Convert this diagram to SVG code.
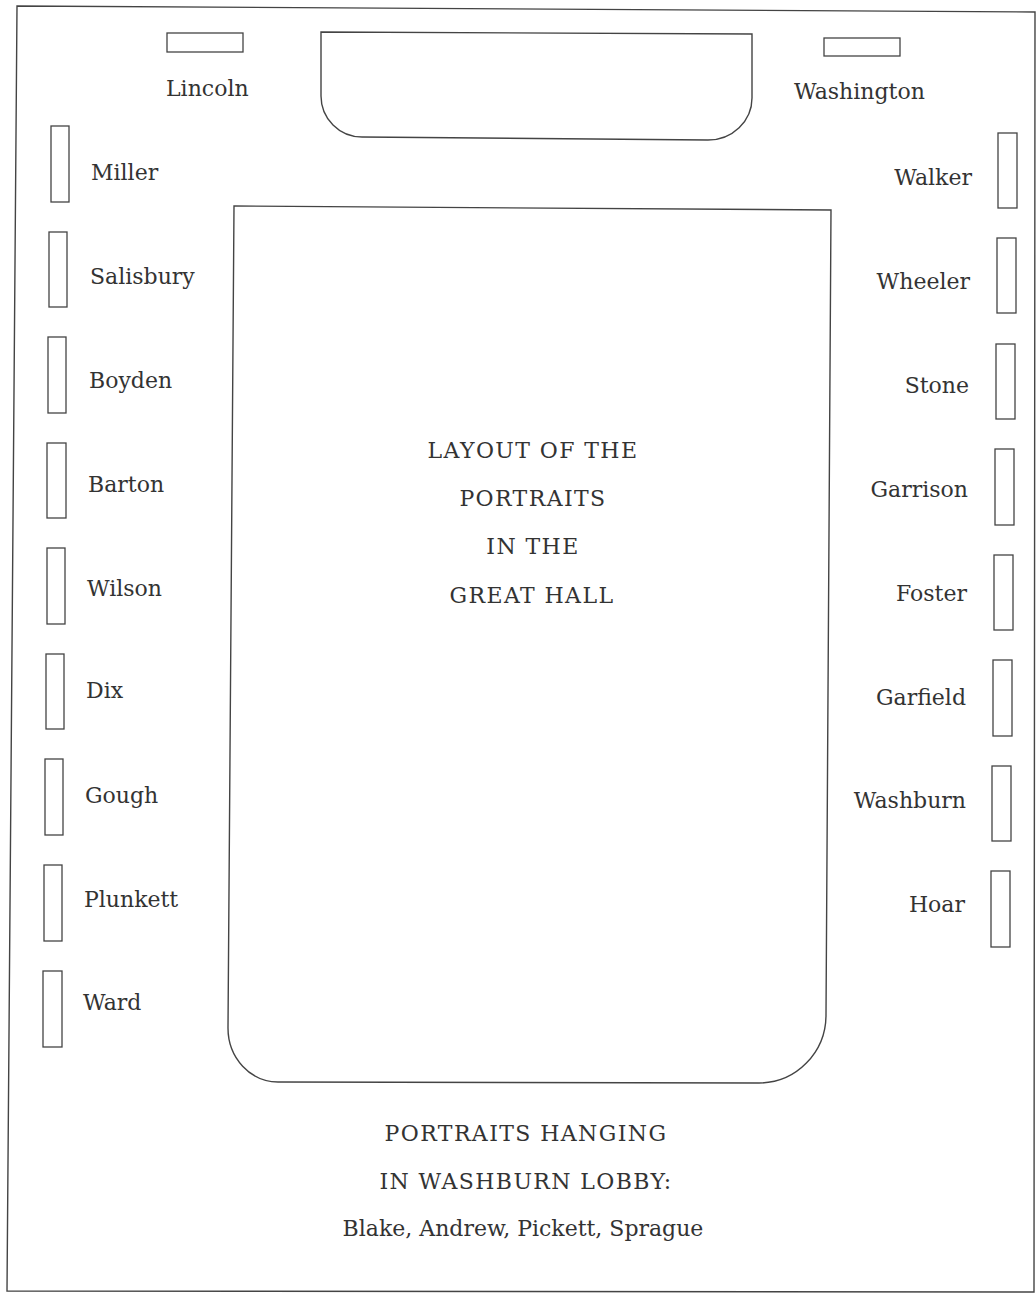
<svg xmlns="http://www.w3.org/2000/svg" width="1036" height="1294" viewBox="0 0 1036 1294">
<style>
.ln{fill:none;stroke:#444;stroke-width:1.4}
.fr{fill:none;stroke:#444;stroke-width:1.3}
text{font-family:"DejaVu Serif","Liberation Serif",serif;font-size:22px;fill:#333}
.r{text-anchor:end}
.c{text-anchor:middle}
.cap{letter-spacing:1.4px}
</style>
<rect x="0" y="0" width="1036" height="1294" fill="#fff"/>
<polygon class="ln" points="17,6 1035,12 1034,1292 7,1291"/>
<g id="alcove"><path class="ln" d="M321,32 L752,34 L752,98 A44,42 0 0 1 708,140 L362,137 A41,41 0 0 1 321,96 Z"/></g>
<g id="hall">
<path class="ln" d="M234,206 L831,210 L826,1015 A67,68 0 0 1 759,1083 L278,1082 A50,54 0 0 1 228,1028 Z"/>
<text class="c cap" x="533" y="458">LAYOUT OF THE</text>
<text class="c cap" x="533" y="506">PORTRAITS</text>
<text class="c cap" x="533" y="554">IN THE</text>
<text class="c cap" x="532" y="603">GREAT HALL</text>
</g>
<g id="lincoln"><rect class="fr" x="167" y="33" width="76" height="19"/><text x="166" y="96">Lincoln</text></g>
<g id="washington"><rect class="fr" x="824" y="38" width="76" height="18"/><text x="794" y="99">Washington</text></g>
<g id="miller"><rect class="fr" x="51" y="126" width="18" height="76"/><text x="91" y="180">Miller</text></g>
<g id="salisbury"><rect class="fr" x="49" y="232" width="18" height="75"/><text x="90" y="284">Salisbury</text></g>
<g id="boyden"><rect class="fr" x="48" y="337" width="18" height="76"/><text x="89" y="388">Boyden</text></g>
<g id="barton"><rect class="fr" x="47" y="443" width="19" height="75"/><text x="88" y="492">Barton</text></g>
<g id="wilson"><rect class="fr" x="47" y="548" width="18" height="76"/><text x="87" y="596">Wilson</text></g>
<g id="dix"><rect class="fr" x="46" y="654" width="18" height="75"/><text x="86" y="698">Dix</text></g>
<g id="gough"><rect class="fr" x="45" y="759" width="18" height="76"/><text x="85" y="803">Gough</text></g>
<g id="plunkett"><rect class="fr" x="44" y="865" width="18" height="76"/><text x="84" y="907">Plunkett</text></g>
<g id="ward"><rect class="fr" x="43" y="971" width="19" height="76"/><text x="83" y="1010">Ward</text></g>
<g id="walker"><rect class="fr" x="998" y="133" width="19" height="75"/><text class="r" x="972" y="185">Walker</text></g>
<g id="wheeler"><rect class="fr" x="997" y="238" width="19" height="75"/><text class="r" x="970" y="289">Wheeler</text></g>
<g id="stone"><rect class="fr" x="996" y="344" width="19" height="75"/><text class="r" x="969" y="393">Stone</text></g>
<g id="garrison"><rect class="fr" x="995" y="449" width="19" height="76"/><text class="r" x="968" y="497">Garrison</text></g>
<g id="foster"><rect class="fr" x="994" y="555" width="19" height="75"/><text class="r" x="967" y="601">Foster</text></g>
<g id="garfield"><rect class="fr" x="993" y="660" width="19" height="76"/><text class="r" x="966" y="705">Garfield</text></g>
<g id="washburn"><rect class="fr" x="992" y="766" width="19" height="75"/><text class="r" x="966" y="808">Washburn</text></g>
<g id="hoar"><rect class="fr" x="991" y="871" width="19" height="76"/><text class="r" x="965" y="912">Hoar</text></g>
<g id="lobby">
<text class="c cap" x="526" y="1141">PORTRAITS HANGING</text>
<text class="c cap" x="526" y="1189">IN WASHBURN LOBBY:</text>
<text class="c" x="523" y="1236">Blake, Andrew, Pickett, Sprague</text>
</g>
<g id="connectors"></g>
</svg>
